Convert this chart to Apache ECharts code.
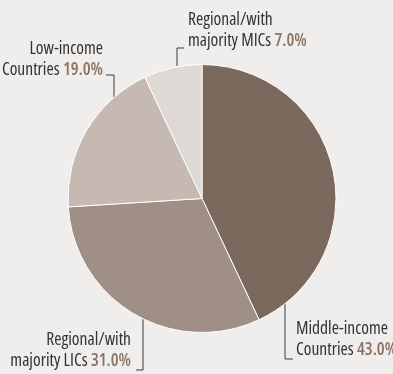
<!DOCTYPE html>
<html>
<head>
<meta charset="utf-8">
<script src="https://cdn.jsdelivr.net/npm/echarts@6/dist/echarts.min.js"></script>
<style>
html,body{margin:0;padding:0;background:#f0eeec;}
#chart{width:393px;height:374px;}
</style>
</head>
<body>
<div id="chart"></div>
<script>
// Data
var categories = ["Middle-income\nCountries", "Regional/with\nmajority LICs", "Low-income\nCountries", "Regional/with\nmajority MICs"];
var shares = [43.0, 31.0, 19.0, 7.0];
var sliceColors = ["#7b695d", "#9f8f84", "#c6b9b1", "#dfd9d5"];

// Label placement (layout only)
var labelPlacement = [
  {x: 296, y: 340, align: "left", line: [[285, 303], [285, 359], [293, 359]]},
  {x: 131, y: 351, align: "right", line: [[143, 318], [143, 370], [136, 370]]},
  {x: 103, y: 59.5, align: "right", line: [[114, 97], [114, 75], [106, 75]]},
  {x: 188, y: 31, align: "left", line: [[177, 66], [177, 48], [184, 48]]}
];

var FONT = "'Open Sans', sans-serif";

var chart = echarts.init(document.getElementById("chart"), null, {renderer: "canvas"});
var data = categories.map(function (c, i) {
  return {name: c, value: shares[i], itemStyle: {color: sliceColors[i]}};
});

chart.setOption({
  backgroundColor: "#f0eeec",
  animation: false,
  series: [{
    type: "pie",
    center: [202, 198.5],
    radius: [0, 134],
    startAngle: 90,
    clockwise: true,
    avoidLabelOverlap: false,
    data: data,
    itemStyle: {borderColor: "#ffffff", borderWidth: 1},
    label: {
      show: true,
      position: "outside",
      formatter: function (p) {
        var parts = p.name.split("\n");
        return "{n|" + parts[0] + "}\n{n|" + parts[1] + "} {v|" + p.value.toFixed(1) + "%}";
      },
      rich: {
        n: {fontFamily: FONT, fontStyle: "condensed", fontSize: 17.5, color: "#333333", lineHeight: 21},
        v: {fontFamily: FONT, fontStyle: "condensed", fontWeight: 600, fontSize: 17.5, color: "#8a7365", lineHeight: 21}
      }
    },
    labelLine: {show: true, smooth: false, lineStyle: {color: "#3b3b3b", width: 1}},
    labelLayout: function (params) {
      var lp = labelPlacement[params.dataIndex];
      return {
        x: lp.x,
        y: lp.y,
        align: lp.align,
        verticalAlign: "middle",
        labelLinePoints: lp.line
      };
    },
    emphasis: {disabled: true}
  }]
});
</script>
</body>
</html>
